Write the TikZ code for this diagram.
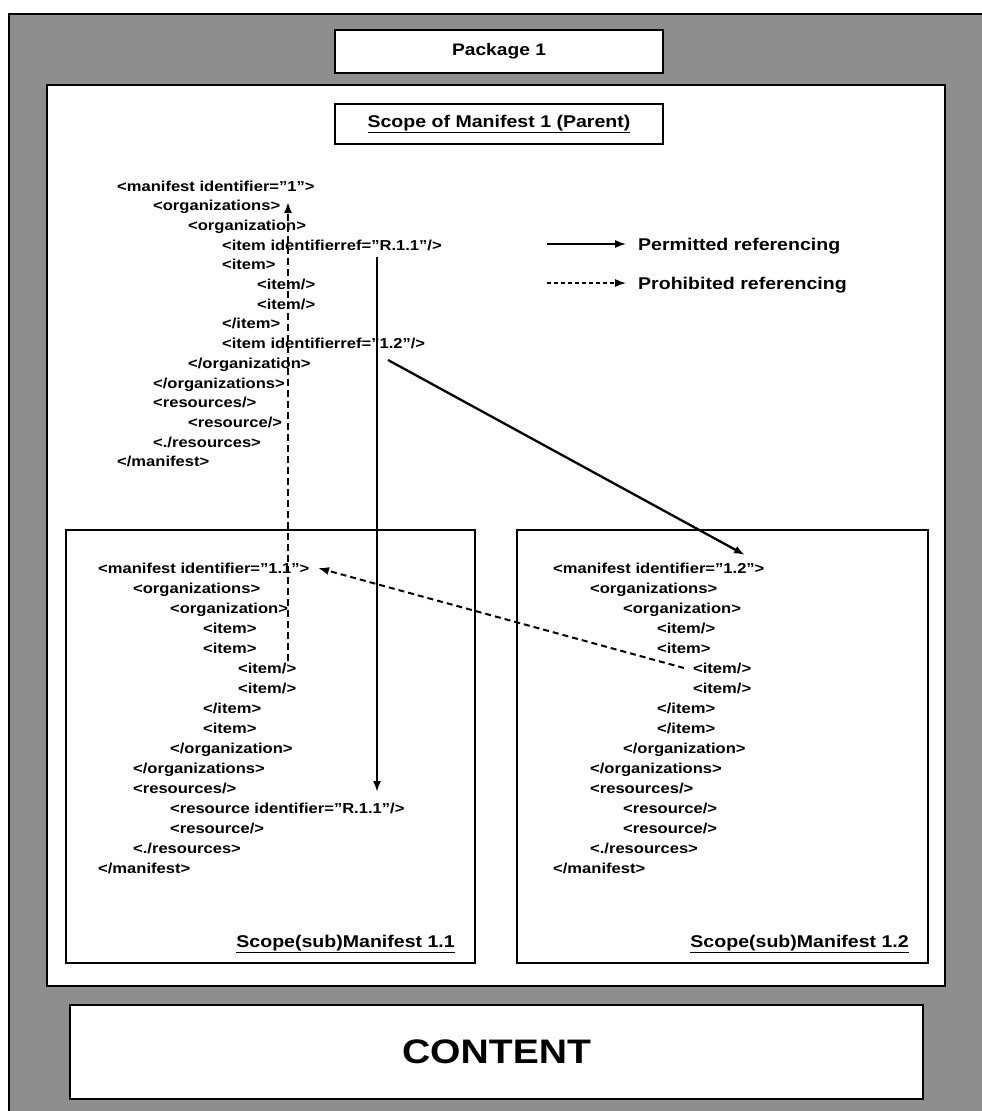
\documentclass[tikz,border=0pt]{standalone}
\usepackage{fontspec}
\setmainfont[FakeStretch=1.15]{Liberation Sans}
\usetikzlibrary{arrows.meta}
\definecolor{pkggray}{RGB}{142,142,142}
\newcommand\xl[4]{\node[xml] (#1) at (#2,#3) {#4};}
\begin{document}
\begin{tikzpicture}[x=1pt,y=-1pt,
  xml/.style={anchor=base west,inner sep=0pt,font=\fontsize{14.4}{16}\selectfont\bfseries},
  boxthick/.style={draw,fill=white,line width=2.6pt,inner sep=0pt},
  boxthin/.style={draw,fill=white,line width=1.8pt,inner sep=0pt},
  lab/.style={inner sep=0pt,font=\fontsize{17}{19}\selectfont\bfseries},
  tip/.style={-{Latex[length=11pt,width=8pt]}},
  permitted/.style={tip,line width=1.9pt},
  prohibited/.style={tip,line width=2pt,dash pattern=on 6pt off 4pt},
]
\useasboundingbox (0,0) rectangle (982,1111);
% outer package area
\fill[pkggray] (9,14) rectangle (995,1120);
\draw[line width=2pt] (9,1120) |- (995,14);
% package title
\node[boxthick,minimum width=328,minimum height=43,font=\fontsize{16.7}{18}\selectfont\bfseries] (pkg) at (499,51.5) {Package 1};
% parent manifest scope
\node[boxthick,minimum width=898,minimum height=901] (parent) at (496,535.5) {};
\node[boxthin,minimum width=328,minimum height=40,font=\fontsize{17}{19}\selectfont\bfseries] (scope) at (499,124) {\underline{Scope of Manifest 1 (Parent)}};
% sub manifest boxes
\node[boxthin,line width=2.2pt,minimum width=409,minimum height=433] (sub1) at (270.5,746.5) {};
\node[boxthin,line width=2.2pt,minimum width=411,minimum height=433] (sub2) at (722.5,746.5) {};
\node[lab,anchor=base east] (sub1lab) at (455,947) {\underline{Scope(sub)Manifest 1.1}};
\node[lab,anchor=base east] (sub2lab) at (909,947) {\underline{Scope(sub)Manifest 1.2}};
% content
\node[boxthick,minimum width=853,minimum height=94,font=\fontsize{34}{36}\selectfont\bfseries] (content) at (496.5,1052) {CONTENT};
% parent manifest text
\xl{p0}{117}{191}{<manifest identifier="1">}
\xl{p1}{153}{191+19.7}{<organizations>}
\xl{p2}{188}{191+19.7*2}{<organization>}
\xl{p3}{222}{191+19.7*3}{<item identifierref="R.1.1"/>}
\xl{p4}{222}{191+19.7*4}{<item>}
\xl{p5}{257}{191+19.7*5}{<item/>}
\xl{p6}{257}{191+19.7*6}{<item/>}
\xl{p7}{222}{191+19.7*7}{</item>}
\xl{p8}{222}{191+19.7*8}{<item identifierref="1.2"/>}
\xl{p9}{188}{191+19.7*9}{</organization>}
\xl{p10}{153}{191+19.7*10}{</organizations>}
\xl{p11}{153}{191+19.7*11}{<resources/>}
\xl{p12}{188}{191+19.7*12}{<resource/>}
\xl{p13}{153}{191+19.7*13}{<./resources>}
\xl{p14}{117}{191+19.7*14}{</manifest>}
% sub manifest 1.1 text
\xl{a0}{98}{573}{<manifest identifier="1.1">}
\xl{a1}{133}{573+20}{<organizations>}
\xl{a2}{170}{573+20*2}{<organization>}
\xl{a3}{203}{573+20*3}{<item>}
\xl{a4}{203}{573+20*4}{<item>}
\xl{a5}{238}{573+20*5}{<item/>}
\xl{a6}{238}{573+20*6}{<item/>}
\xl{a7}{203}{573+20*7}{</item>}
\xl{a8}{203}{573+20*8}{<item>}
\xl{a9}{170}{573+20*9}{</organization>}
\xl{a10}{133}{573+20*10}{</organizations>}
\xl{a11}{133}{573+20*11}{<resources/>}
\xl{a12}{170}{573+20*12}{<resource identifier="R.1.1"/>}
\xl{a13}{170}{573+20*13}{<resource/>}
\xl{a14}{133}{573+20*14}{<./resources>}
\xl{a15}{98}{573+20*15}{</manifest>}
% sub manifest 1.2 text
\xl{b0}{553}{573}{<manifest identifier="1.2">}
\xl{b1}{590}{573+20}{<organizations>}
\xl{b2}{623}{573+20*2}{<organization>}
\xl{b3}{657}{573+20*3}{<item/>}
\xl{b4}{657}{573+20*4}{<item>}
\xl{b5}{693}{573+20*5}{<item/>}
\xl{b6}{693}{573+20*6}{<item/>}
\xl{b7}{657}{573+20*7}{</item>}
\xl{b8}{657}{573+20*8}{</item>}
\xl{b9}{623}{573+20*9}{</organization>}
\xl{b10}{590}{573+20*10}{</organizations>}
\xl{b11}{590}{573+20*11}{<resources/>}
\xl{b12}{623}{573+20*12}{<resource/>}
\xl{b13}{623}{573+20*13}{<resource/>}
\xl{b14}{590}{573+20*14}{<./resources>}
\xl{b15}{553}{573+20*15}{</manifest>}
% legend
\coordinate (lg1a) at (547,244);
\coordinate (lg1b) at (626,244);
\coordinate (lg2a) at (547,283);
\coordinate (lg2b) at (626,283);
\node[lab,anchor=base west] (lgperm) at (638,250) {Permitted referencing};
\node[lab,anchor=base west] (lgproh) at (638,289) {Prohibited referencing};
\draw[tip,line width=1.3pt] (lg1a) -- (lg1b);
\draw[tip,line width=1.3pt,dash pattern=on 4pt off 3pt] (lg2a) -- (lg2b);
% references
\coordinate (r11from) at (377,257);
\coordinate (r11to) at (377,792);
\coordinate (m12from) at (388,360);
\coordinate (m12to) at (745,555);
\coordinate (badfrom) at (684,668);
\coordinate (badto) at (318,568);
\coordinate (upfrom) at (288,661);
\coordinate (upto) at (288,202);
\draw[permitted] (r11from) -- (r11to);
\draw[permitted,line width=2.3pt] (m12from) -- (m12to);
\draw[prohibited] (badfrom) -- (badto);
\draw[prohibited,line width=2.6pt,dash pattern=on 7pt off 4pt] (upfrom) -- (upto);
\end{tikzpicture}
\end{document}
